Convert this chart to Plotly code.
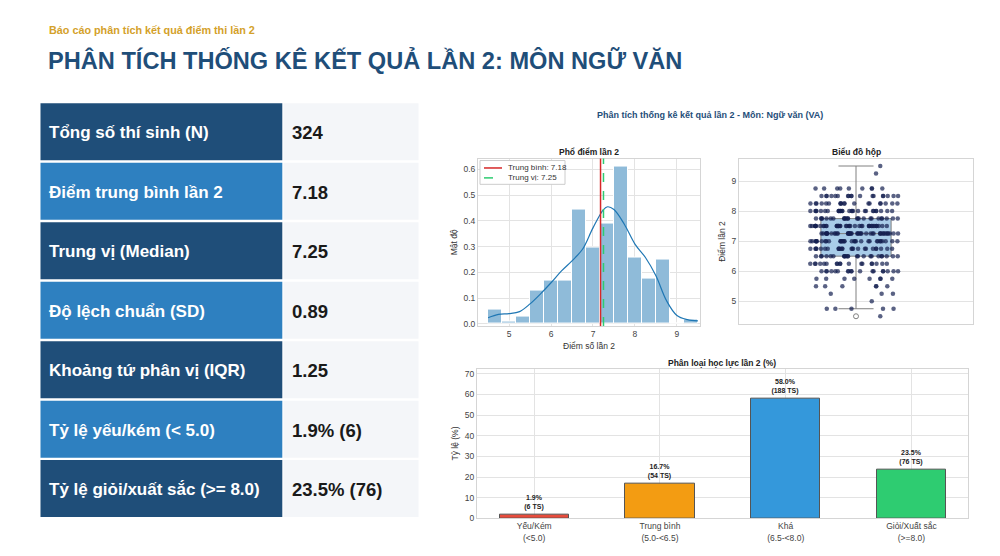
import numpy as np
import plotly.graph_objects as go

# ---- data ----
table_labels = ["Tổng số thí sinh (N)", "Điểm trung bình lần 2", "Trung vị (Median)",
                "Độ lệch chuẩn (SD)", "Khoảng tứ phân vị (IQR)", "Tỷ lệ yếu/kém (< 5.0)",
                "Tỷ lệ giỏi/xuất sắc (>= 8.0)"]
table_values = ["324", "7.18", "7.25", "0.89", "1.25", "1.9% (6)", "23.5% (76)"]

score_levels = [4.5, 4.75, 5.0, 5.25, 5.5, 5.75, 6.0, 6.25, 6.5, 6.75, 7.0,
                7.25, 7.5, 7.75, 8.0, 8.25, 8.5, 8.75, 9.0, 9.25, 9.5]
score_counts = [1, 5, 1, 3, 6, 8, 18, 18, 23, 25, 32,
                42, 41, 25, 28, 19, 18, 9, 0, 1, 1]

kde_x = [4.5, 4.75, 5.0, 5.25, 5.5, 5.75, 6.0, 6.25, 6.5, 6.75, 7.0,
         7.25, 7.35, 7.5, 7.75, 8.0, 8.25, 8.5, 8.75, 9.0, 9.25, 9.5]
kde_y = [0.024, 0.037, 0.040, 0.048, 0.078, 0.117, 0.160, 0.206, 0.245, 0.290, 0.373,
         0.444, 0.455, 0.444, 0.386, 0.310, 0.258, 0.187, 0.091, 0.033, 0.017, 0.012]

mean_score = 7.18
median_score = 7.25

categories = ["Yếu/Kém<br>(&lt;5.0)", "Trung bình<br>(5.0-&lt;6.5)",
              "Khá<br>(6.5-&lt;8.0)", "Giỏi/Xuất sắc<br>(&gt;=8.0)"]
cat_pct = [1.9, 16.7, 58.0, 23.5]
cat_n = [6, 54, 188, 76]
cat_colors = ["#e74c3c", "#f39c12", "#3498db", "#2ecc71"]

scores = np.repeat(score_levels, score_counts)
dens, edges = np.histogram(scores, bins=15, range=(4.5, 9.5), density=True)
centers = (edges[:-1] + edges[1:]) / 2

W, H = 1000, 556
FONT = "Liberation Sans, Arial, sans-serif"


def px(x):
    return x / W


def py(y):
    return 1 - y / H


fig = go.Figure()

# table cells
row_top, row_h, row_pitch = 104.3, 57.5, 60.0
for i, (lab, val) in enumerate(zip(table_labels, table_values)):
    y0 = row_top + i * row_pitch
    y1 = y0 + row_h
    fig.add_shape(type="rect", xref="paper", yref="paper", x0=px(40.5), x1=px(282.3),
                  y0=py(y1), y1=py(y0), fillcolor="#1f4e79" if i % 2 == 0 else "#2e80c0",
                  line=dict(width=0), layer="below")
    fig.add_shape(type="rect", xref="paper", yref="paper", x0=px(283.5), x1=px(418.5),
                  y0=py(y1), y1=py(y0), fillcolor="#f4f6f9", line=dict(width=0), layer="below")
    fig.add_annotation(text=f"<b>{lab}</b>", x=px(47), y=py((y0 + y1) / 2 + 1), xref="paper", yref="paper",
                       xanchor="left", yanchor="middle", showarrow=False,
                       font=dict(size=17, color="white", family=FONT))
    fig.add_annotation(text=f"<b>{val}</b>", x=px(289.5), y=py((y0 + y1) / 2 + 1), xref="paper", yref="paper",
                       xanchor="left", yanchor="middle", showarrow=False,
                       font=dict(size=18.5, color="#1a1a1a", family=FONT))

# histogram + kde
fig.add_trace(go.Bar(x=centers, y=dens, width=edges[1] - edges[0],
                     marker=dict(color="#8fbbd9", line=dict(color="white", width=1)),
                     showlegend=False, xaxis="x", yaxis="y"))
fig.add_trace(go.Scatter(x=kde_x, y=kde_y, mode="lines", line=dict(color="#1f77b4", width=1.2, shape="spline"),
                         showlegend=False, xaxis="x", yaxis="y"))
fig.add_shape(type="line", xref="x", yref="y domain", x0=mean_score, x1=mean_score, y0=0, y1=1,
              line=dict(color="#d62728", width=1.5))
fig.add_shape(type="line", xref="x", yref="y domain", x0=median_score, x1=median_score, y0=0, y1=1,
              line=dict(color="#2ecc71", width=1.5, dash="dash"))

# small legend box like matplotlib's
fig.add_shape(type="rect", xref="paper", yref="paper", x0=px(480), x1=px(565), y0=py(186), y1=py(162),
              fillcolor="white", line=dict(color="#cccccc", width=1))
for k, (name, col, dash) in enumerate([(f"Trung bình: {mean_score:.2f}", "#d62728", "solid"),
                                        (f"Trung vị: {median_score:.2f}", "#2ecc71", "dash")]):
    yy = 169.5 + k * 10
    fig.add_shape(type="line", xref="paper", yref="paper", x0=px(484), x1=px(502), y0=py(yy), y1=py(yy),
                  line=dict(color=col, width=1.5, dash=dash))
    fig.add_annotation(text=name, x=px(506), y=py(yy), xref="paper", yref="paper", xanchor="left",
                       yanchor="middle", showarrow=False, font=dict(size=8, color="#333333", family=FONT))

# box + strip (one strip trace per score level so every row gets the full jitter width)
fig.add_trace(go.Box(y=scores, x0=0, width=0.3, boxpoints="outliers", pointpos=0, jitter=0,
                     fillcolor="#a8cce8", line=dict(color="#808080", width=1), whiskerwidth=0.5,
                     marker=dict(symbol="circle-open", color="#808080", size=5),
                     showlegend=False, xaxis="x2", yaxis="y2"))
strip_styles = [(0.0, 1.0), (0.12, 0.88), (-0.12, 0.88), (0.06, 0.94), (-0.06, 0.94)]
for k, (lvl, cnt) in enumerate(zip(score_levels, score_counts)):
    if cnt == 0:
        continue
    pp, jit = strip_styles[k % len(strip_styles)]
    fig.add_trace(go.Box(y=np.repeat(lvl, cnt), x0=0, width=0.4, boxpoints="all", pointpos=pp, jitter=jit,
                         fillcolor="rgba(0,0,0,0)", line=dict(color="rgba(0,0,0,0)", width=0),
                         marker=dict(color="#142050", size=4.5, opacity=0.7),
                         showlegend=False, xaxis="x2", yaxis="y2"))

# category bars
fig.add_trace(go.Bar(x=categories, y=cat_pct, width=0.55,
                     marker=dict(color=cat_colors, line=dict(color="#555555", width=1)),
                     text=[f"<b>{p:.1f}%<br>({n} TS)</b>" for p, n in zip(cat_pct, cat_n)],
                     textposition="outside", textfont=dict(size=7, color="#222222"),
                     cliponaxis=False, showlegend=False, xaxis="x3", yaxis="y3"))

# headings
fig.add_annotation(text="<b>Báo cáo phân tích kết quả điểm thi lần 2</b>", x=px(47), y=py(30),
                   xref="paper", yref="paper", xanchor="left", yanchor="middle", showarrow=False,
                   font=dict(size=10.8, color="#d4a12a", family=FONT))
fig.add_annotation(text="<b>PHÂN TÍCH THỐNG KÊ KẾT QUẢ LẦN 2: MÔN NGỮ VĂN</b>", x=px(46), y=py(61),
                   xref="paper", yref="paper", xanchor="left", yanchor="middle", showarrow=False,
                   font=dict(size=23.6, color="#1f4e79", family=FONT))
fig.add_annotation(text="<b>Phân tích thống kê kết quả lần 2 - Môn: Ngữ văn (VA)</b>", x=px(710), y=py(116),
                   xref="paper", yref="paper", xanchor="center", yanchor="middle", showarrow=False,
                   font=dict(size=9, color="#1f4e79", family=FONT))
for txt, xc, yc in [("Phổ điểm lần 2", 589, 153), ("Biểu đồ hộp", 856, 153),
                    ("Phân loại học lực lần 2 (%)", 722, 366)]:
    fig.add_annotation(text=f"<b>{txt}</b>", x=px(xc), y=py(yc), xref="paper", yref="paper",
                       xanchor="center", yanchor="middle", showarrow=False,
                       font=dict(size=8.5, color="#222222", family=FONT))

axis_style = dict(showgrid=True, gridcolor="#e3e3e3", gridwidth=1, showline=True, mirror=True,
                  linecolor="#d5d5d5", linewidth=1, zeroline=False, ticks="",
                  tickfont=dict(size=8.5, color="#444444"), title_font=dict(size=8.5, color="#333333"),
                  title_standoff=4)

fig.update_layout(
    width=W, height=H, margin=dict(l=0, r=0, t=0, b=0),
    paper_bgcolor="white", plot_bgcolor="white",
    font=dict(family=FONT, color="#333333"),
    bargap=0, boxmode="overlay", showlegend=False,
    xaxis=dict(domain=[px(478), px(700)], range=[4.26, 9.55], tickvals=[5, 6, 7, 8, 9],
               title_text="Điểm số lần 2", anchor="y", **axis_style),
    yaxis=dict(domain=[py(329), py(160)], range=[-0.008, 0.642], dtick=0.1, tickformat=".1f",
               title_text="Mật độ", anchor="x", **axis_style),
    xaxis2=dict(domain=[px(739), px(973)], range=[-0.5, 0.5], showticklabels=False,
                anchor="y2", **{**axis_style, "showgrid": False}),
    yaxis2=dict(domain=[py(326.7), py(160.7)], range=[4.25, 9.725], dtick=1,
                title_text="Điểm lần 2", anchor="x2", **axis_style),
    xaxis3=dict(domain=[px(477), px(968)], range=[-0.455, 3.45], anchor="y3", **axis_style),
    yaxis3=dict(domain=[py(523), py(372)], range=[0, 72.5], dtick=10,
                title_text="Tỷ lệ (%)", anchor="x3", **axis_style),
)

fig.write_html("out.html", config={"displayModeBar": False},
               post_script="document.body.style.margin='0px';")
